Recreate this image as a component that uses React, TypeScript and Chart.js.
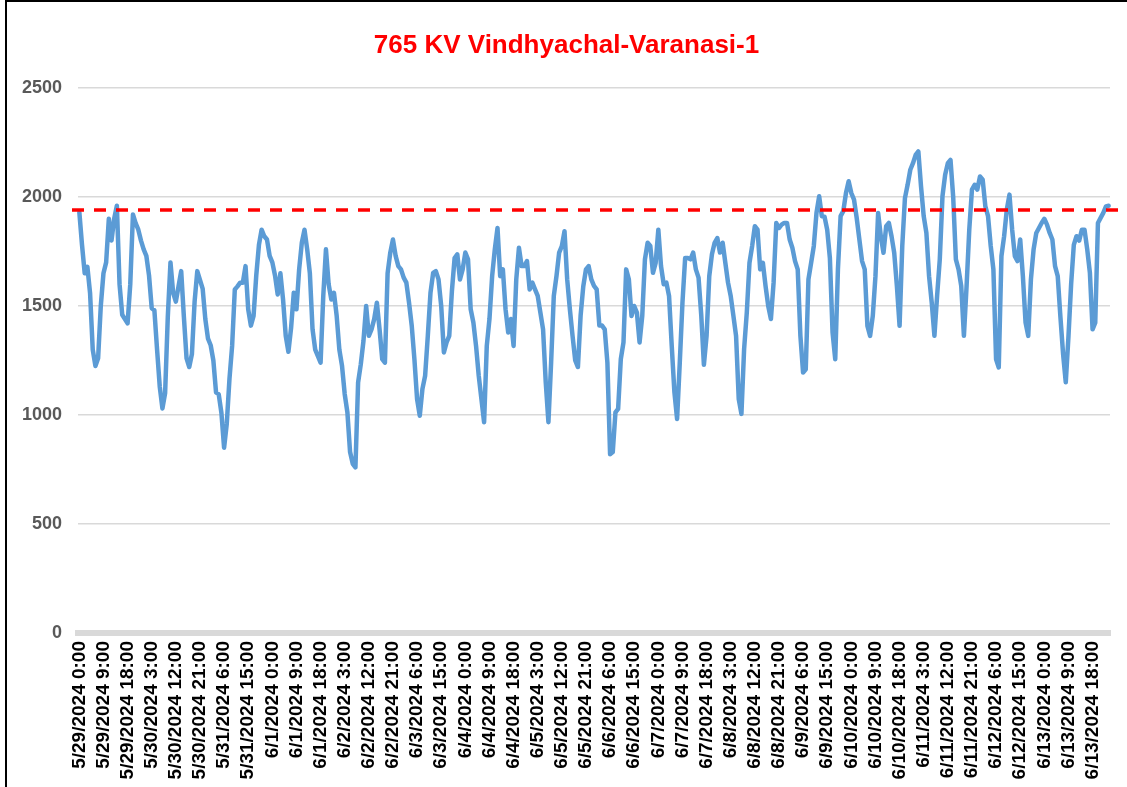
import React, { useEffect, useRef } from "react";
import { Chart, registerables } from "chart.js";

Chart.register(...registerables);

const TITLE = "765 KV Vindhyachal-Varanasi-1";
const LIMIT_VALUE = 1940;
const Y_MIN = 0;
const Y_MAX = 2500;
const Y_STEP = 500;
const LABEL_EVERY = 9;

// Hourly loading (MW), one array per day starting 5/29/2024 0:00
const may29 = [1930, 1780, 1650, 1680, 1560, 1300, 1225, 1260, 1500, 1650, 1700, 1900, 1800, 1900, 1960, 1600, 1460, 1440, 1420, 1600, 1920, 1880, 1850, 1800];
const may30 = [1760, 1730, 1640, 1490, 1480, 1300, 1130, 1030, 1100, 1450, 1700, 1560, 1520, 1590, 1660, 1450, 1260, 1220, 1280, 1520, 1660, 1620, 1580, 1440];
const may31 = [1350, 1320, 1250, 1104, 1095, 1010, 850, 960, 1165, 1317, 1576, 1590, 1607, 1607, 1683, 1485, 1410, 1455, 1640, 1780, 1850, 1820, 1805, 1730];
const jun01 = [1700, 1640, 1553, 1650, 1530, 1363, 1290, 1400, 1561, 1485, 1668, 1790, 1850, 1760, 1650, 1393, 1300, 1270, 1240, 1546, 1760, 1600, 1530, 1560];
const jun02 = [1455, 1300, 1225, 1096, 1012, 830, 776, 760, 1150, 1233, 1340, 1500, 1363, 1393, 1440, 1515, 1393, 1256, 1240, 1650, 1745, 1805, 1730, 1683];
const jun03 = [1668, 1630, 1607, 1515, 1410, 1256, 1073, 997, 1120, 1180, 1363, 1561, 1652, 1660, 1622, 1500, 1287, 1333, 1363, 1570, 1720, 1737, 1622, 1668];
const jun04 = [1745, 1714, 1485, 1424, 1317, 1180, 1073, 967, 1317, 1440, 1637, 1760, 1858, 1637, 1668, 1485, 1378, 1440, 1317, 1622, 1767, 1683, 1683, 1706];
const jun05 = [1576, 1607, 1576, 1546, 1470, 1393, 1150, 967, 1240, 1546, 1637, 1745, 1775, 1843, 1622, 1485, 1363, 1250, 1220, 1455, 1590, 1668, 1683, 1622];
const jun06 = [1592, 1576, 1410, 1410, 1393, 1240, 820, 830, 1012, 1028, 1256, 1333, 1668, 1622, 1454, 1500, 1470, 1333, 1454, 1714, 1790, 1775, 1652, 1698];
const jun07 = [1850, 1683, 1600, 1607, 1546, 1317, 1104, 982, 1240, 1515, 1720, 1720, 1714, 1745, 1668, 1630, 1460, 1230, 1363, 1637, 1737, 1790, 1812, 1745];
const jun08 = [1790, 1698, 1607, 1546, 1455, 1363, 1073, 1005, 1302, 1470, 1698, 1775, 1866, 1850, 1668, 1698, 1592, 1500, 1440, 1607, 1881, 1858, 1873, 1881];
const jun09 = [1881, 1805, 1767, 1706, 1668, 1363, 1195, 1210, 1622, 1698, 1775, 1927, 2003, 1912, 1910, 1850, 1720, 1378, 1256, 1668, 1912, 1935, 2018, 2072];
const jun10 = [2018, 1988, 1904, 1805, 1706, 1668, 1409, 1363, 1454, 1637, 1927, 1820, 1744, 1866, 1881, 1820, 1744, 1592, 1409, 1775, 1995, 2056, 2125, 2155];
const jun11 = [2193, 2209, 2049, 1912, 1835, 1637, 1515, 1363, 1546, 1714, 2003, 2102, 2155, 2170, 2000, 1714, 1668, 1592, 1363, 1592, 1850, 2034, 2056, 2034];
const jun12 = [2094, 2079, 1957, 1912, 1775, 1668, 1256, 1218, 1729, 1820, 1942, 2011, 1850, 1729, 1706, 1805, 1637, 1424, 1363, 1622, 1760, 1835, 1858, 1881];
const jun13 = [1900, 1873, 1835, 1805, 1683, 1637, 1450, 1280, 1150, 1360, 1600, 1780, 1820, 1800, 1850, 1850, 1760, 1652, 1393, 1424, 1881, 1904, 1927, 1957];
const jun14 = [1960];

const values: number[] = [
  ...may29, ...may30, ...may31, ...jun01, ...jun02, ...jun03, ...jun04, ...jun05,
  ...jun06, ...jun07, ...jun08, ...jun09, ...jun10, ...jun11, ...jun12, ...jun13, ...jun14,
];

const START_UTC = Date.UTC(2024, 4, 29, 0, 0, 0);
const categories: string[] = values.map((_, i) => {
  const d = new Date(START_UTC + i * 3600 * 1000);
  return `${d.getUTCMonth() + 1}/${d.getUTCDate()}/${d.getUTCFullYear()} ${d.getUTCHours()}:00`;
});

const FONT = "'Liberation Sans', Arial, sans-serif";

const overlayPlugin = {
  id: "overlay",
  afterDatasetsDraw(chart: any) {
    const ctx = chart.ctx;
    const y = chart.scales.y.getPixelForValue(LIMIT_VALUE);
    ctx.save();
    ctx.strokeStyle = "#ff0000";
    ctx.lineWidth = 3.5;
    ctx.setLineDash([12, 10]);
    ctx.beginPath();
    ctx.moveTo(chart.chartArea.left - 6, y);
    ctx.lineTo(chart.width, y);
    ctx.stroke();
    ctx.restore();
  },
  afterDraw(chart: any) {
    const ctx = chart.ctx;
    ctx.save();
    ctx.fillStyle = "#ff0000";
    ctx.font = `bold 26px ${FONT}`;
    ctx.textAlign = "center";
    ctx.textBaseline = "middle";
    ctx.fillText(TITLE, chart.width / 2 + 3, 46);
    ctx.restore();
  },
};

export default function App() {
  const canvasRef = useRef<HTMLCanvasElement | null>(null);

  useEffect(() => {
    const canvas = canvasRef.current;
    if (!canvas) return;
    const chart = new Chart(canvas, {
      type: "line",
      data: {
        labels: categories,
        datasets: [
          {
            data: values,
            borderColor: "#5b9bd5",
            borderWidth: 4.5,
            pointRadius: 0,
            tension: 0,
            fill: false,
            borderJoinStyle: "round",
            borderCapStyle: "round",
          },
        ],
      },
      options: {
        responsive: false,
        animation: false,
        events: [],
        layout: { padding: { top: 88, right: 17, left: 0, bottom: 0 } },
        plugins: {
          legend: { display: false },
          tooltip: { enabled: false },
          title: { display: false },
        },
        scales: {
          x: {
            type: "category",
            offset: true,
            grid: { display: false, drawTicks: false },
            border: { display: true, color: "#d9d9d9", width: 6 },
            ticks: {
              autoSkip: false,
              minRotation: 90,
              maxRotation: 90,
              padding: 8,
              color: "#000000",
              font: { family: FONT, size: 19, weight: "bold" },
              callback: (_v: any, i: number) => (i % LABEL_EVERY === 0 ? categories[i] : null),
            },
            afterFit: (s: any) => {
              s.height = 154;
            },
          },
          y: {
            min: Y_MIN,
            max: Y_MAX,
            ticks: {
              stepSize: Y_STEP,
              padding: 16,
              color: "#595959",
              font: { family: FONT, size: 18, weight: "bold" },
              callback: (v: any) => String(v),
            },
            grid: { color: "#d9d9d9", lineWidth: 1.5, drawTicks: false },
            border: { display: false },
            afterFit: (s: any) => {
              s.width = 78;
            },
          },
        },
      },
      plugins: [overlayPlugin],
    });
    return () => chart.destroy();
  }, []);

  return (
    <div style={{ position: "absolute", left: 0, top: 0, width: 1127, height: 787, background: "#fff", overflow: "hidden" }}>
      <canvas ref={canvasRef} width={1127} height={787} style={{ position: "absolute", left: 0, top: 0, display: "block" }} />
      <div
        style={{
          position: "absolute",
          left: 5,
          top: 0,
          width: 1122,
          height: 787,
          boxSizing: "border-box",
          borderLeft: "2px solid #000",
          borderTop: "2px solid #000",
          pointerEvents: "none",
        }}
      />
    </div>
  );
}
